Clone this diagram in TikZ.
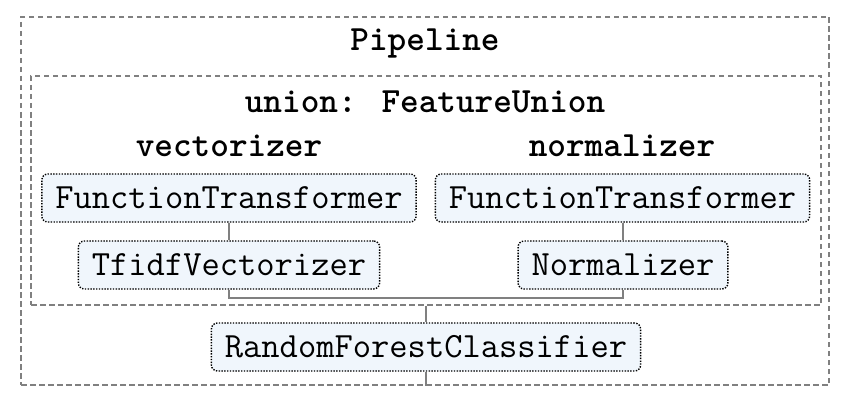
\documentclass[tikz,border=0pt]{standalone}
\usepackage{fontspec}
\definecolor{estfill}{RGB}{240,246,252}
\definecolor{linegray}{RGB}{128,128,128}
\begin{document}
\begin{tikzpicture}[x=1pt,y=-1pt,
		font=\ttfamily\fontsize{35.5}{39}\selectfont,
		group/.style={draw=linegray, line width=1.4pt, dash pattern=on 5.5pt off 3.5pt, inner sep=0pt},
		est/.style={draw=black, fill=estfill, line width=1.4pt, dash pattern=on 1.4pt off 1.4pt,
			rounded corners=6pt, inner xsep=13.5pt, inner ysep=0pt, minimum height=48pt},
		title/.style={font=\ttfamily\bfseries\fontsize{35.5}{39}\selectfont},
		link/.style={draw=linegray, line width=1.4pt},
	]
	\useasboundingbox (0,0) rectangle (846,404);

	% containers
	\node[group, minimum width=808pt, minimum height=368pt] (pipe) at (425,201) {};
	\node[group, minimum width=790pt, minimum height=229pt] (union) at (426,190.5) {};

	% labels
	\node[title] (pipelbl) at (425,43) {Pipeline};
	\node[title] (unionlbl) at (425,102) {union: FeatureUnion};
	\node[title] (veclbl) at (229,146) {vectorizer};
	\node[title] (normlbl) at (622,146) {normalizer};

	% estimators
	\node[est] (ftvec) at (229,198) {FunctionTransformer};
	\node[est] (ftnorm) at (622.5,198) {FunctionTransformer};
	\node[est] (tfidf) at (229,265) {TfidfVectorizer};
	\node[est] (norm) at (623,265) {Normalizer};
	\node[est] (rfc) at (426,347) {RandomForestClassifier};

	% connectors
	\coordinate (mid) at (426,298);
	\draw[link] (ftvec) -- (tfidf);
	\draw[link] (ftnorm.south -| norm.south) -- (norm);
	\draw[link] (tfidf.south) |- (mid) -| (norm.south);
	\draw[link] (union.south) -- (rfc.north);
	\draw[link] (rfc.south) -- (rfc.south |- pipe.south);
\end{tikzpicture}
\end{document}
